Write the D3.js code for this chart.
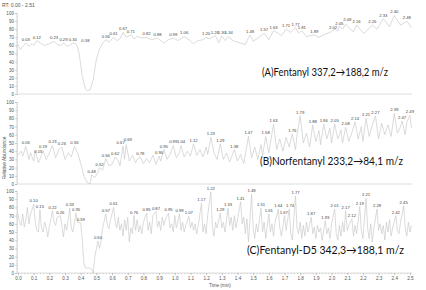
<!DOCTYPE html>
<html>
<head>
<meta charset="utf-8">
<script src="https://cdn.jsdelivr.net/npm/d3@7"></script>
<style>
  body { margin: 0; background: #fff; }
  svg { display: block; }
</style>
</head>
<body>
<svg id="chart" width="426" height="290"></svg>
<script>
// ion traces, [time (min), relative abundance]
const traceA = [[0,61],[0.015,55],[0.05,63],[0.07,59],[0.09,62],[0.10,60],[0.12,66],[0.15,62],[0.17,60],[0.20,62],[0.23,65],[0.25,61],[0.27,60],[0.29,63],[0.31,59],[0.33,60],[0.35,63],[0.37,62],[0.38,58],
  [0.39,50],[0.41,22],[0.43,6],[0.44,4],[0.46,5],[0.48,18],[0.50,43],[0.52,55],[0.54,63],[0.56,67],[0.58,64],[0.61,70],[0.63,66],[0.65,68],[0.67,76],[0.69,70],[0.72,73],[0.74,68],[0.76,71],[0.79,69],[0.82,70],[0.85,67],[0.89,69],[0.91,66],[0.93,63],[0.96,67],[0.99,69],[1.02,66],[1.06,71],[1.09,67],[1.12,62],[1.15,66],[1.18,67],[1.20,70],[1.22,68],
  [1.24,70],[1.26,72],[1.28,63],[1.30,72],[1.32,66],[1.34,71],[1.37,66],[1.40,64],[1.45,61],[1.48,73],[1.50,65],[1.53,69],[1.57,75],[1.60,67],[1.63,78],[1.66,75],[1.68,72],[1.71,80],[1.74,76],[1.77,82],[1.79,75],[1.81,78],[1.84,71],[1.89,73],[1.92,70],[1.96,74],[1.99,76],[2.02,80],[2.04,78],[2.05,84],[2.07,80],[2.09,86],[2.12,80],[2.14,77],[2.16,85],[2.19,78],[2.21,75],[2.26,85],[2.29,80],[2.33,93],[2.37,83],[2.40,97],[2.44,85],[2.48,90],[2.51,82]];

const traceB = [[0,35],[0.02,40],[0.03,34],[0.05,46],[0.07,30],[0.08,38],[0.10,28],[0.11,41],[0.13,26],[0.15,35],[0.16,41],[0.18,30],[0.20,38],[0.22,47],[0.24,32],[0.26,42],[0.28,45],[0.30,30],[0.32,38],[0.34,33],[0.36,46],[0.38,38],[0.40,25],[0.42,10],[0.44,2],[0.46,0],[0.47,11],[0.49,8],[0.51,14],[0.52,20],[0.54,17],[0.56,31],[0.58,22],[0.60,24],[0.62,33],[0.64,28],[0.65,22],[0.67,46],[0.68,30],[0.69,48],[0.71,28],[0.73,35],[0.75,26],[0.76,30],[0.78,33],[0.80,25],[0.82,31],[0.84,26],[0.86,35],[0.88,24],[0.90,34],[0.91,28],[0.93,42],[0.95,30],[0.97,36],[0.99,47],[1.01,32],[1.03,38],[1.04,47],[1.06,33],[1.08,40],[1.10,34],[1.12,49],[1.14,35],[1.16,42],[1.18,33],[1.20,45],[1.21,36],[1.23,57],[1.25,38],[1.27,30],[1.29,49],[1.31,30],[1.33,38],[1.35,27],[1.38,42],[1.40,28],[1.42,36],[1.44,25],[1.47,58],[1.49,32],[1.51,45],[1.53,30],[1.55,48],[1.56,35],[1.58,58],[1.60,38],[1.61,50],[1.63,73],[1.65,42],[1.67,55],[1.69,40],[1.71,57],[1.73,45],[1.75,61],[1.77,42],[1.78,60],[1.80,83],[1.82,50],[1.84,62],[1.86,45],[1.88,72],[1.90,52],[1.92,65],[1.93,48],[1.95,73],[1.97,55],[1.99,68],[2.00,50],[2.02,73],[2.04,55],[2.06,66],[2.07,50],[2.09,69],[2.11,52],[2.13,63],[2.15,76],[2.17,55],[2.19,70],[2.20,52],[2.22,80],[2.24,58],[2.26,72],[2.28,83],[2.30,55],[2.32,74],[2.34,60],[2.36,72],[2.38,58],[2.40,86],[2.42,62],[2.44,70],[2.45,77],[2.47,60],[2.48,75],[2.50,84],[2.51,68]];

const traceC = [[0,72],[0.01,62],[0.02,58],[0.03,72],[0.04,56],[0.05,65],[0.06,80],[0.07,60],[0.08,72],[0.10,84],[0.11,62],[0.12,52],[0.13,50],[0.14,77],[0.15,55],[0.16,50],[0.17,62],[0.18,55],[0.19,44],[0.20,56],[0.22,76],[0.23,62],[0.24,58],[0.25,68],[0.27,70],[0.28,58],[0.29,44],[0.30,60],[0.31,52],[0.33,79],[0.34,55],[0.35,50],[0.37,73],[0.38,62],[0.40,61],[0.41,40],[0.42,12],[0.43,6],[0.45,6],[0.46,6],[0.47,5],[0.48,0],[0.49,20],[0.51,39],[0.52,30],[0.53,40],[0.54,55],[0.56,72],[0.57,58],[0.58,54],[0.59,65],[0.61,80],[0.62,62],[0.63,55],[0.64,68],[0.65,52],[0.66,60],[0.67,45],[0.68,65],[0.69,52],[0.70,68],[0.71,38],[0.72,55],[0.73,48],[0.74,70],[0.75,52],[0.76,65],[0.77,50],[0.78,58],[0.79,48],[0.80,62],[0.82,73],[0.83,52],[0.84,62],[0.85,48],[0.86,70],[0.88,75],[0.89,56],[0.90,63],[0.91,52],[0.92,68],[0.93,58],[0.94,66],[0.96,73],[0.97,55],[0.98,60],[0.99,50],[1.00,70],[1.01,55],[1.03,72],[1.04,52],[1.05,62],[1.06,50],[1.07,58],[1.09,69],[1.10,55],[1.11,62],[1.12,52],[1.13,60],[1.14,48],[1.15,58],[1.17,85],[1.18,50],[1.19,60],[1.20,48],[1.21,70],[1.23,99],[1.24,55],[1.25,45],[1.26,62],[1.27,55],[1.29,73],[1.30,55],[1.31,62],[1.32,50],[1.34,79],[1.35,58],[1.36,68],[1.37,52],[1.38,70],[1.39,55],[1.40,65],[1.42,87],[1.43,60],[1.44,68],[1.45,48],[1.46,66],[1.47,38],[1.49,96],[1.50,55],[1.51,42],[1.52,60],[1.53,50],[1.55,79],[1.56,50],[1.57,62],[1.58,42],[1.60,72],[1.61,50],[1.62,60],[1.63,45],[1.64,62],[1.66,78],[1.67,55],[1.68,45],[1.70,70],[1.71,52],[1.73,78],[1.74,48],[1.75,40],[1.77,94],[1.78,55],[1.79,48],[1.80,62],[1.81,42],[1.82,58],[1.83,45],[1.84,62],[1.85,50],[1.87,68],[1.88,48],[1.89,56],[1.90,42],[1.91,58],[1.92,50],[1.93,55],[1.94,40],[1.96,64],[1.97,48],[1.98,55],[1.99,42],[2.00,60],[2.02,78],[2.03,48],[2.04,40],[2.05,58],[2.06,45],[2.07,62],[2.08,50],[2.09,76],[2.10,52],[2.11,58],[2.13,66],[2.14,45],[2.15,58],[2.16,48],[2.18,81],[2.19,52],[2.20,42],[2.22,91],[2.23,55],[2.24,42],[2.25,60],[2.26,38],[2.27,55],[2.29,78],[2.30,52],[2.31,60],[2.32,48],[2.33,58],[2.34,40],[2.35,62],[2.36,50],[2.37,65],[2.38,45],[2.39,55],[2.41,70],[2.42,52],[2.43,48],[2.44,62],[2.46,82],[2.47,55],[2.48,45],[2.49,62],[2.50,50],[2.51,58]];

// peak annotations, [time, abundance, label]
const labelsA = [[0.05,63,'0.03'],[0.12,66,'0.12'],[0.23,65,'0.23'],[0.29,63,'0.29'],[0.35,63,'0.34'],[0.43,62,'0.38'],[0.56,67,'0.56'],[0.61,70,'0.61'],[0.67,76,'0.67'],[0.72,73,'0.71'],[0.82,70,'0.82'],[0.89,69,'0.88'],[0.99,69,'0.99'],[1.06,71,'1.06'],[1.20,70,'1.20'],
  [1.255,72,'1.26'],[1.30,72,'1.30'],[1.345,71,'1.34'],[1.48,73,'1.48'],[1.57,75,'1.57'],[1.63,78,'1.63'],[1.71,80,'1.71'],[1.77,82,'1.77'],[1.81,78,'1.81'],[1.89,73,'1.89'],[2.01,78,'2.02'],[2.05,83,'2.05'],[2.10,88,'2.09'],[2.16,85,'2.16'],[2.26,85,'2.26'],[2.33,93,'2.33'],[2.40,97,'2.40'],[2.48,90,'2.48']];
const labelsB = [[0.05,46,'0.05'],[0.13,35,'0.15'],[0.16,41,'0.19'],[0.22,47,'0.23'],[0.28,45,'0.26'],[0.36,46,'0.36'],[0.47,11,'0.48'],[0.52,20,'0.52'],[0.56,31,'0.56'],[0.62,33,'0.62'],[0.655,46,'0.67'],[0.70,50,'0.69'],[0.78,33,'0.78'],[0.90,34,'0.90'],[0.93,42,'0.95'],[0.99,47,'0.99'],[1.04,47,'1.04'],[1.12,49,'1.12'],[1.23,57,'1.23'],[1.29,49,'1.29'],[1.38,42,'1.38'],
  [1.47,58,'1.47'],[1.58,58,'1.58'],[1.63,73,'1.63'],[1.75,61,'1.76'],[1.80,83,'1.79'],[1.88,72,'1.88'],[1.95,73,'1.96'],[2.02,73,'2.05'],[2.09,69,'2.08'],[2.15,76,'2.14'],[2.22,80,'2.21'],[2.28,83,'2.27'],[2.40,86,'2.39'],[2.45,77,'2.47'],[2.50,84,'2.49']];
const labelsC = [[0.10,84,'0.10'],[0.14,77,'0.15'],[0.22,76,'0.22'],[0.27,70,'0.26'],[0.33,79,'0.33'],[0.37,73,'0.35'],[0.40,61,'0.39'],[0.51,39,'0.50'],[0.56,72,'0.57'],[0.61,80,'0.61'],[0.74,70,'0.76'],[0.82,73,'0.85'],[0.88,75,'0.87'],[0.96,73,'0.95'],[1.03,72,'0.99'],[1.09,69,'1.07'],[1.17,85,'1.17'],[1.23,99,'1.22'],
  [1.29,73,'1.29'],[1.34,79,'1.33'],[1.42,87,'1.41'],[1.49,96,'1.48'],[1.55,79,'1.51'],[1.60,72,'1.61'],[1.66,78,'1.64'],[1.695,69,'1.67'],[1.735,78,'1.74'],[1.77,94,'1.77'],[1.87,68,'1.87'],[1.96,64,'1.93'],[2.02,78,'2.01'],[2.09,76,'2.17'],[2.13,66,'2.12'],[2.18,81,'2.19'],[2.22,91,'2.21'],[2.29,78,'2.28'],[2.41,70,'2.42'],[2.46,82,'2.45']];

const titles = ['(A)Fentanyl 337,2\u2192188,2 m/z', '(B)Norfentanyl 233,2\u219284,1 m/z', '(C)Fentanyl-D5 342,3\u2192188,1 m/z'];
const yTicks = d3.range(0, 101, 10);
const xTicks = d3.range(0, 2.51, 0.1);

const svg = d3.select('#chart');
const lineColor = '#c8c8c8';
const textColor = '#555';

const x = d3.scaleLinear().domain([0, 2.51]).range([18, 411.5]);

const panels = [
  { trace: traceA, labels: labelsA, title: titles[0], top: 13, bottom: 94, tx: 388, ty: 76, tw: 126 },
  { trace: traceB, labels: labelsB, title: titles[1], top: 102, bottom: 184, tx: 403, ty: 165, tw: 143 },
  { trace: traceC, labels: labelsC, title: titles[2], top: 191, bottom: 273, tx: 404, ty: 254, tw: 157 }
];

svg.append('text')
  .attr('x', 2).attr('y', 7)
  .attr('font-family', 'Liberation Sans, sans-serif')
  .attr('font-size', 5).attr('fill', textColor)
  .text('RT: 0.00 - 2.51');

panels.forEach(p => {
  const y = d3.scaleLinear().domain([0, 100]).range([p.bottom, p.top]);
  const g = svg.append('g');

  // baseline across the panel
  g.append('line')
    .attr('x1', 17).attr('x2', 412)
    .attr('y1', y(0)).attr('y2', y(0))
    .attr('stroke', '#d6d6d6').attr('stroke-width', 0.8);

  // minor y ticks
  g.append('g')
    .attr('transform', 'translate(17,0)')
    .call(d3.axisLeft(y).tickValues(d3.range(0, 101, 2)).tickSize(1).tickFormat(''))
    .call(a => a.selectAll('line').attr('stroke', '#bbb').attr('stroke-width', 0.5))
    .call(a => a.select('.domain').remove());

  g.append('g')
    .attr('transform', 'translate(17,0)')
    .call(d3.axisLeft(y).tickValues(yTicks).tickSize(2).tickPadding(1))
    .call(a => a.select('.domain').attr('stroke', '#c8c8c8').attr('stroke-width', 0.6))
    .call(a => a.selectAll('line').attr('stroke', '#aaa').attr('stroke-width', 0.5))
    .call(a => a.selectAll('text')
      .attr('font-family', 'Liberation Sans, sans-serif')
      .attr('font-size', 4.6).attr('fill', textColor));

  const line = d3.line()
    .x(d => x(d[0]))
    .y(d => y(d[1]));

  g.append('path')
    .datum(p.trace)
    .attr('fill', 'none')
    .attr('stroke', lineColor)
    .attr('stroke-width', 0.65)
    .attr('stroke-linejoin', 'round')
    .attr('d', line);

  g.append('g')
    .attr('font-family', 'Liberation Sans, sans-serif')
    .attr('font-size', 4.2)
    .attr('fill', '#444')
    .attr('text-anchor', 'middle')
    .selectAll('text')
    .data(p.labels)
    .join('text')
    .attr('x', d => x(d[0]))
    .attr('y', d => y(d[1]) - 2)
    .text(d => d[2]);

  g.append('text')
    .attr('x', p.tx).attr('y', p.ty)
    .attr('text-anchor', 'end')
    .attr('font-family', 'Lato, Open Sans, sans-serif')
    .attr('font-size', 11.5)
    .attr('fill', '#111')
    .attr('textLength', p.tw)
    .attr('lengthAdjust', 'spacingAndGlyphs')
    .text(p.title);
});

// time axis under the last panel
const yBottom = panels[2].bottom;
svg.append('g')
  .attr('transform', `translate(0,${yBottom})`)
  .call(d3.axisBottom(x).tickValues(d3.range(0, 2.511, 0.02)).tickSize(1.2).tickFormat(''))
  .call(a => a.selectAll('line').attr('stroke', '#aaa').attr('stroke-width', 0.5))
  .call(a => a.select('.domain').remove());

svg.append('g')
  .attr('transform', `translate(0,${yBottom})`)
  .call(d3.axisBottom(x).tickValues(xTicks).tickSize(2.2).tickPadding(1.5).tickFormat(d3.format('.1f')))
  .call(a => a.select('.domain').remove())
  .call(a => a.selectAll('line').attr('stroke', '#999').attr('stroke-width', 0.5))
  .call(a => a.selectAll('text')
    .attr('font-family', 'Liberation Sans, sans-serif')
    .attr('font-size', 4.6).attr('fill', textColor));

svg.append('text')
  .attr('x', 209).attr('y', 287)
  .attr('font-family', 'Liberation Sans, sans-serif')
  .attr('font-size', 4.6).attr('fill', textColor)
  .text('Time (min)');

svg.append('text')
  .attr('transform', 'translate(6,158) rotate(-90)')
  .attr('text-anchor', 'middle')
  .attr('font-family', 'Liberation Sans, sans-serif')
  .attr('font-size', 4.8).attr('fill', textColor)
  .text('Relative Abundance');
</script>
</body>
</html>
